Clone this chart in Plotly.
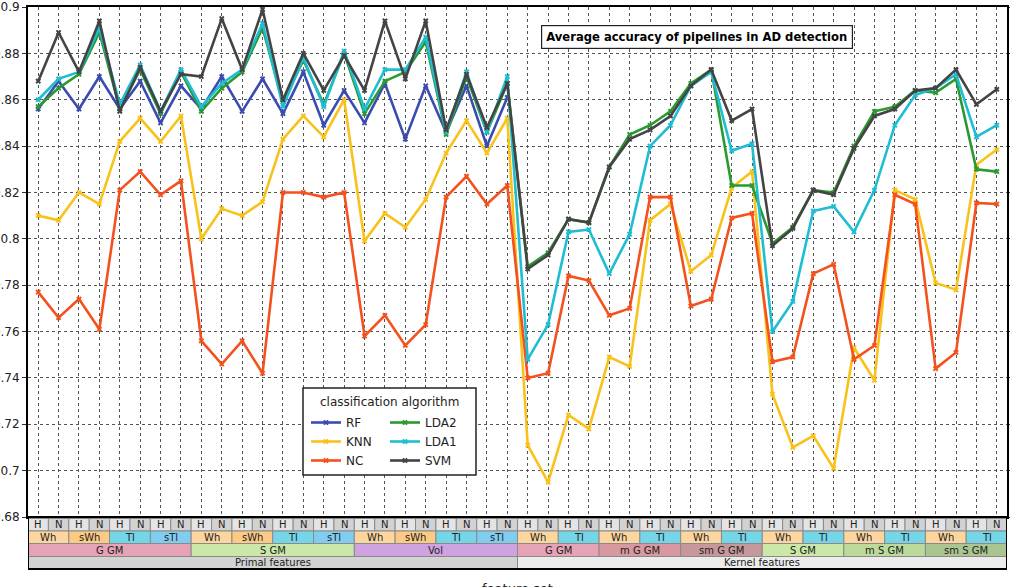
import plotly.graph_objects as go

# ---------------- data ----------------
x_idx = list(range(48))
level_hn = ["H", "N"] * 24
level_filter = ["Wh", "sWh", "Tl", "sTl"] * 3 + ["Wh", "Tl"] * 6          # each spans 2 points
level_feat = ["G GM", "S GM", "Vol", "G GM", "m G GM", "sm G GM", "S GM", "m S GM", "sm S GM"]
level_feat_span = [8, 8, 8, 4, 4, 4, 4, 4, 4]
level_kind = ["Primal features", "Kernel features"]
level_kind_span = [24, 24]

rf = [0.856, 0.868, 0.856, 0.870, 0.856, 0.868, 0.850, 0.866, 0.856, 0.870, 0.855, 0.869,
      0.854, 0.872, 0.849, 0.864, 0.850, 0.867, 0.843, 0.866, 0.846, 0.866, 0.840, 0.861] + [None] * 24
knn = [0.810, 0.808, 0.820, 0.815, 0.842, 0.852, 0.842, 0.853, 0.800, 0.813, 0.810, 0.816,
       0.843, 0.853, 0.844, 0.860, 0.799, 0.811, 0.805, 0.817, 0.837, 0.851, 0.837, 0.852,
       0.711, 0.695, 0.724, 0.718, 0.749, 0.745, 0.808, 0.815, 0.786, 0.793, 0.822, 0.829,
       0.733, 0.710, 0.715, 0.701, 0.753, 0.739, 0.821, 0.817, 0.781, 0.778, 0.832, 0.8385]
nc = [0.777, 0.766, 0.774, 0.761, 0.821, 0.829, 0.819, 0.825, 0.756, 0.746, 0.756, 0.742,
      0.820, 0.820, 0.818, 0.820, 0.758, 0.767, 0.754, 0.763, 0.818, 0.827, 0.815, 0.823,
      0.740, 0.742, 0.784, 0.782, 0.767, 0.770, 0.818, 0.818, 0.771, 0.774, 0.809, 0.811,
      0.747, 0.749, 0.785, 0.789, 0.748, 0.754, 0.819, 0.815, 0.744, 0.751, 0.8155, 0.815]
lda2 = [0.857, 0.865, 0.871, 0.889, 0.856, 0.873, 0.854, 0.872, 0.855, 0.865, 0.872, 0.891,
        0.859, 0.877, 0.858, 0.880, 0.854, 0.868, 0.872, 0.885, 0.845, 0.870, 0.846, 0.867,
        0.788, 0.794, 0.8085, 0.807, 0.831, 0.845, 0.849, 0.855, 0.867, 0.873, 0.823, 0.823,
        0.798, 0.805, 0.821, 0.820, 0.840, 0.855, 0.857, 0.864, 0.863, 0.869, 0.830, 0.829]
lda1 = [0.860, 0.869, 0.872, 0.891, 0.858, 0.875, 0.855, 0.873, 0.857, 0.867, 0.873, 0.893,
        0.857, 0.878, 0.857, 0.881, 0.856, 0.873, 0.873, 0.887, 0.846, 0.872, 0.846, 0.870,
        0.748, 0.763, 0.803, 0.804, 0.785, 0.802, 0.840, 0.849, 0.866, 0.872, 0.838, 0.841,
        0.760, 0.773, 0.812, 0.814, 0.803, 0.821, 0.849, 0.862, 0.865, 0.871, 0.844, 0.849]
svm = [0.868, 0.889, 0.872, 0.894, 0.855, 0.874, 0.855, 0.871, 0.870, 0.895, 0.873, 0.899,
       0.860, 0.880, 0.864, 0.879, 0.864, 0.894, 0.869, 0.894, 0.847, 0.871, 0.848, 0.867,
       0.787, 0.793, 0.8085, 0.807, 0.831, 0.843, 0.847, 0.853, 0.866, 0.873, 0.851, 0.856,
       0.797, 0.8045, 0.821, 0.819, 0.839, 0.853, 0.856, 0.864, 0.865, 0.873, 0.858, 0.8645]

series_names = ["RF", "KNN", "NC", "LDA2", "LDA1", "SVM"]
series_vals = [rf, knn, nc, lda2, lda1, svm]
series_colors = ["#3b4cb0", "#f9c21a", "#f4511e", "#2a9a30", "#1ebdd3", "#444444"]
series_legend = ["legend", "legend", "legend", "legend2", "legend2", "legend2"]

y_ticks = [0.68, 0.70, 0.72, 0.74, 0.76, 0.78, 0.80, 0.82, 0.84, 0.86, 0.88, 0.90]
y_ticktext = ["0.68", "0.7", "0.72", "0.74", "0.76", "0.78", "0.8", "0.82", "0.84", "0.86", "0.88", "0.9"]

hn_colors = {"H": "#e4e4e4", "N": "#d2d2d2"}
filter_colors = {"Wh": "#fdd59e", "sWh": "#fcca84", "Tl": "#74d6e6", "sTl": "#80cdf0"}
feat_colors = {"G GM": "#e6a3b6", "S GM": "#cbe8a8", "Vol": "#cfa2e0", "m G GM": "#d8989f",
               "sm G GM": "#c6979b", "m S GM": "#bcdb9b", "sm S GM": "#aac590"}
kind_colors = {"Primal features": "#d3d3d3", "Kernel features": "#ececec"}

FONT = "DejaVu Sans"

fig = go.Figure()
for name, vals, col, lg in zip(series_names, series_vals, series_colors, series_legend):
    fig.add_trace(go.Scatter(
        x=x_idx, y=vals, name=name, mode="lines+markers",
        line=dict(color=col, width=2.6),
        marker=dict(symbol="x", size=5, color=col),
        legend=lg,
    ))

# ---------------- category table below the plot ----------------
H = 510.0
def py(dy):  # dy = pixels below the bottom of the plot area
    return -dy / H

rows = [(1.5, 14), (14, 26.5), (26.5, 39.5), (39.5, 52)]
shapes = []
annotations = []

def add_cell(x0, x1, row, fill, text, size=10):
    y0, y1 = py(rows[row][1]), py(rows[row][0])
    shapes.append(dict(type="rect", xref="x", yref="paper", x0=x0, x1=x1, y0=y0, y1=y1,
                       fillcolor=fill, line=dict(color="#8a8a8a", width=1), layer="above"))
    annotations.append(dict(x=(x0 + x1) / 2, y=(y0 + y1) / 2, xref="x", yref="paper",
                            text=text, showarrow=False, font=dict(family=FONT, size=size, color="#222"),
                            xanchor="center", yanchor="middle"))

for i, lab in enumerate(level_hn):
    add_cell(i - 0.5, i + 0.5, 0, hn_colors[lab], lab)
for j, lab in enumerate(level_filter):
    add_cell(2 * j - 0.5, 2 * j + 1.5, 1, filter_colors[lab], lab)
start = 0
for lab, span in zip(level_feat, level_feat_span):
    add_cell(start - 0.5, start + span - 0.5, 2, feat_colors[lab], lab)
    start += span
start = 0
for lab, span in zip(level_kind, level_kind_span):
    add_cell(start - 0.5, start + span - 0.5, 3, kind_colors[lab], lab)
    start += span

shapes.append(dict(type="rect", xref="x", yref="paper", x0=-0.5, x1=47.5,
                   y0=py(rows[3][1]), y1=0, line=dict(color="black", width=2), layer="above"))

# legend box
shapes.append(dict(type="rect", xref="paper", yref="paper",
                   x0=(303 - 28) / 979, x1=(476 - 28) / 979,
                   y0=(517 - 475) / H, y1=(517 - 388) / H,
                   fillcolor="white", line=dict(color="#222", width=1.5), layer="above"))
annotations.append(dict(x=(389 - 28) / 979, y=(517 - 401.5) / H, xref="paper", yref="paper",
                        text="classification algorithm", showarrow=False,
                        font=dict(family=FONT, size=12, color="#222"),
                        xanchor="center", yanchor="middle"))

# title box
annotations.append(dict(x=(696.5 - 28) / 979, y=(517 - 36.5) / H, xref="paper", yref="paper",
                        text="<b>Average accuracy of pipelines in AD detection</b>", showarrow=False,
                        font=dict(family=FONT, size=11.6, color="black"),
                        bordercolor="#222", borderwidth=1.2, borderpad=4, bgcolor="white",
                        xanchor="center", yanchor="middle"))

# x axis title
annotations.append(dict(x=0.5, y=py(62), xref="paper", yref="paper", text="feature set",
                        showarrow=False, font=dict(family=FONT, size=13, color="#222"),
                        xanchor="center", yanchor="top"))

fig.update_layout(
    width=1010, height=587,
    margin=dict(l=28, r=3, t=7, b=70, autoexpand=False),
    paper_bgcolor="white", plot_bgcolor="white",
    font=dict(family=FONT, size=12, color="#222"),
    shapes=shapes, annotations=annotations,
    legend=dict(x=(306 - 28) / 979, y=(517 - 408) / H, xanchor="left", yanchor="top",
                bgcolor="rgba(0,0,0,0)", borderwidth=0, font=dict(family=FONT, size=12),
                tracegroupgap=0, itemwidth=30),
    legend2=dict(x=(385 - 28) / 979, y=(517 - 408) / H, xanchor="left", yanchor="top",
                 bgcolor="rgba(0,0,0,0)", borderwidth=0, font=dict(family=FONT, size=12),
                 tracegroupgap=0, itemwidth=30),
    xaxis=dict(range=[-0.5, 47.5], tickvals=x_idx, showticklabels=False, ticks="",
               showgrid=True, gridcolor="#555", griddash="dot", gridwidth=1,
               showline=True, linecolor="black", linewidth=1.5, mirror=True, zeroline=False),
    yaxis=dict(range=[0.68, 0.9], tickvals=y_ticks, ticktext=y_ticktext,
               ticks="outside", ticklen=4, tickcolor="#333",
               showgrid=True, gridcolor="#555", griddash="dot", gridwidth=1,
               showline=True, linecolor="black", linewidth=2, mirror="ticks", zeroline=False,
               tickfont=dict(family=FONT, size=12, color="#222")),
    showlegend=True,
)

fig.write_html("out.html")
